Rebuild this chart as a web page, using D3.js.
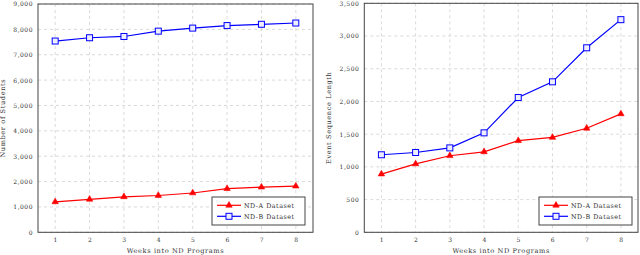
<!DOCTYPE html>
<html><head><meta charset="utf-8">
<script src="https://cdn.jsdelivr.net/npm/d3@7"></script>
<style>body{margin:0;background:#fff}svg{display:block}</style>
</head><body>
<svg id="c" width="640" height="255"></svg>
<script>
const weeks = [1,2,3,4,5,6,7,8];
const studentsA = [1200,1300,1400,1450,1550,1720,1780,1820];
const studentsB = [7540,7670,7720,7930,8050,8150,8200,8250];
const seqA = [890,1045,1170,1230,1400,1450,1590,1810];
const seqB = [1185,1220,1290,1520,2060,2300,2820,3250];
const yTicksLeft = [0,1000,2000,3000,4000,5000,6000,7000,8000,9000];
const yTicksRight = [0,500,1000,1500,2000,2500,3000,3500];
const seriesNames = ["ND-A Dataset","ND-B Dataset"];
const xTitle = "Weeks into ND Programs";

const svg = d3.select("#c");
const font = "'DejaVu Serif',serif";
const fmt = d3.format(",");

function panel(o){
  const x = d3.scaleLinear().domain([0.5,8.5]).range([o.x0,o.x1]);
  const y = d3.scaleLinear().domain([0,o.ymax]).range([o.y1,o.y0]);
  const g = svg.append("g");
  g.selectAll(".gx").data(weeks).enter().append("line")
    .attr("x1",d=>x(d)).attr("x2",d=>x(d)).attr("y1",o.y0).attr("y2",o.y1)
    .attr("stroke","#d0d0d0").attr("stroke-width",0.8).attr("stroke-dasharray","3,3");
  g.selectAll(".gy").data(o.yt).enter().append("line")
    .attr("x1",o.x0).attr("x2",o.x1).attr("y1",d=>y(d)).attr("y2",d=>y(d))
    .attr("stroke","#d0d0d0").attr("stroke-width",0.8).attr("stroke-dasharray","3,3");
  const ax = g.append("g").attr("transform",`translate(0,${o.y1})`)
    .call(d3.axisBottom(x).tickValues(weeks).tickSize(0).tickPadding(5).tickFormat(d3.format("d")));
  const ay = g.append("g").attr("transform",`translate(${o.x0},0)`)
    .call(d3.axisLeft(y).tickValues(o.yt).tickSize(0).tickPadding(5).tickFormat(fmt));
  [ax,ay].forEach(a=>{a.select(".domain").remove();
    a.selectAll("text").attr("font-family",font).attr("font-size",6).attr("letter-spacing",0.5).attr("fill","#333");});
  g.append("rect").attr("x",o.x0).attr("y",o.y0).attr("width",o.x1-o.x0).attr("height",o.y1-o.y0)
    .attr("fill","none").attr("stroke","#444").attr("stroke-width",1);
  const line = d3.line().x((d,i)=>x(weeks[i])).y(d=>y(d));
  g.append("path").datum(o.a).attr("d",line).attr("fill","none").attr("stroke","#ff0000").attr("stroke-width",1.2);
  g.append("path").datum(o.b).attr("d",line).attr("fill","none").attr("stroke","#0000ff").attr("stroke-width",1.2);
  const tri = d3.symbol().type(d3.symbolTriangle).size(18);
  g.selectAll(".ma").data(o.a).enter().append("path")
    .attr("d",tri).attr("transform",(d,i)=>`translate(${x(weeks[i])},${y(d)})`)
    .attr("fill","#ff0000").attr("stroke","#ff0000").attr("stroke-width",0.6);
  g.selectAll(".mb").data(o.b).enter().append("rect")
    .attr("x",(d,i)=>x(weeks[i])-3).attr("y",d=>y(d)-3).attr("width",6).attr("height",6)
    .attr("fill","#eef").attr("stroke","#0000ff").attr("stroke-width",1);
  g.append("text").attr("x",(o.x0+o.x1)/2).attr("y",253).attr("text-anchor","middle")
    .attr("font-family",font).attr("font-size",6.6).attr("letter-spacing",0.6).attr("fill","#333").text(xTitle);
  g.append("text").attr("transform",`translate(${o.tx},${(o.y0+o.y1)/2}) rotate(-90)`)
    .attr("text-anchor","middle").attr("font-family",font).attr("font-size",6.6).attr("letter-spacing",0.6).attr("fill","#333").text(o.title);
  const lg = g.append("g").attr("transform",`translate(${o.lx},197)`);
  lg.append("rect").attr("x",0).attr("y",0).attr("width",93).attr("height",28)
    .attr("fill","#fff").attr("stroke","#444").attr("stroke-width",1);
  [[8.3,"#ff0000","tri"],[19.3,"#0000ff","sq"]].forEach((e,i)=>{
    lg.append("line").attr("x1",5).attr("x2",29).attr("y1",e[0]).attr("y2",e[0]).attr("stroke",e[1]).attr("stroke-width",1.2);
    if(e[2]==="tri") lg.append("path").attr("d",tri).attr("transform",`translate(17,${e[0]})`).attr("fill",e[1]).attr("stroke",e[1]).attr("stroke-width",0.6);
    else lg.append("rect").attr("x",14).attr("y",e[0]-3).attr("width",6).attr("height",6).attr("fill","#eef").attr("stroke",e[1]);
    lg.append("text").attr("x",32).attr("y",e[0]+2.2).attr("font-family",font).attr("font-size",6.4).attr("letter-spacing",0.5).attr("fill","#333").text(seriesNames[i]);
  });
}

panel({x0:38,x1:313,y0:4,y1:232.3,ymax:9000,yt:yTicksLeft,a:studentsA,b:studentsB,title:"Number of Students",tx:5,lx:212});
panel({x0:364.3,x1:638,y0:3.3,y1:232.3,ymax:3500,yt:yTicksRight,a:seqA,b:seqB,title:"Event Sequence Length",tx:331,lx:539});
</script>
</body></html>
